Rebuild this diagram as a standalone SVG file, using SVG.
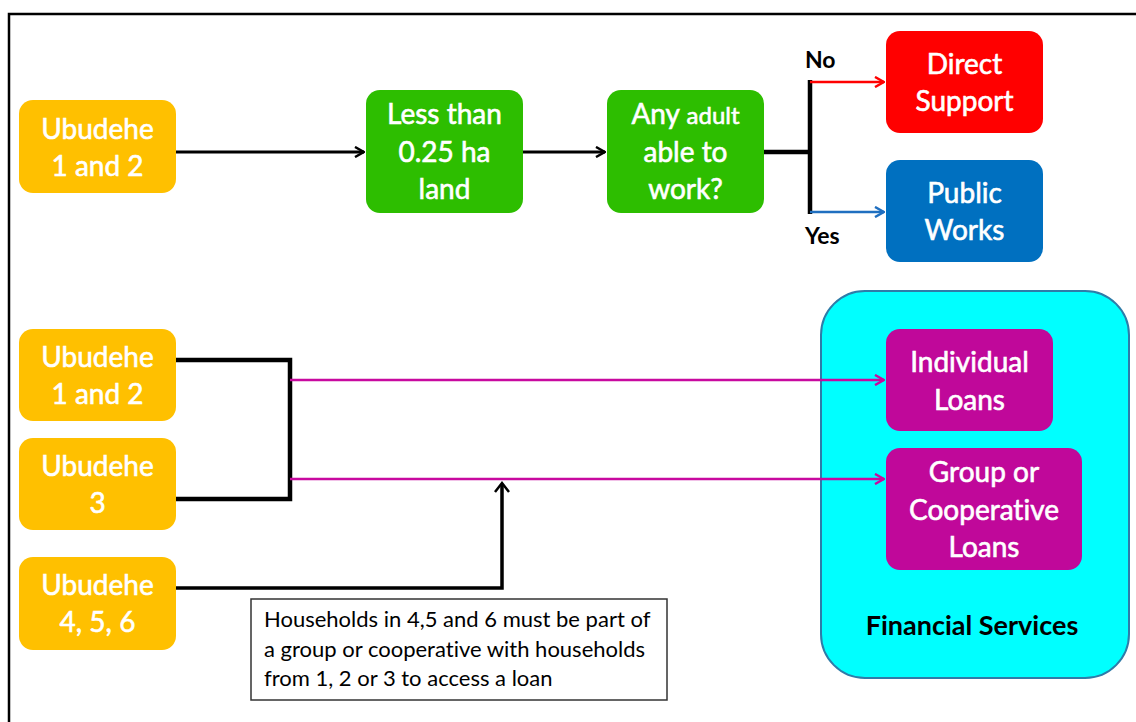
<svg xmlns="http://www.w3.org/2000/svg" width="1136" height="722" viewBox="0 0 1136 722">
<defs>
<style>
text{font-variant-ligatures:none;font-feature-settings:"liga" 0}
.t{font-family:Lato,"Open Sans","Liberation Sans",sans-serif;font-size:28px;fill:#fff;stroke:#fff;stroke-width:0.6;text-anchor:middle}
.lbl{font-family:Lato,"Open Sans","Liberation Sans",sans-serif;font-size:23px;font-weight:bold;fill:#000}
.note{font-family:Lato,"Open Sans","Liberation Sans",sans-serif;font-size:22px;fill:#000}
.k{fill:none;stroke:#000;stroke-width:3}
.kb{fill:none;stroke:#000;stroke-width:4.5}
</style>
<marker id="ak" viewBox="0 0 12 12" refX="11" refY="6" markerWidth="12" markerHeight="12" markerUnits="userSpaceOnUse" orient="auto"><path d="M2,1 L11,6 L2,11" fill="none" stroke="#000" stroke-width="2.5"/></marker>
<marker id="ar" viewBox="0 0 12 12" refX="11" refY="6" markerWidth="12" markerHeight="12" markerUnits="userSpaceOnUse" orient="auto"><path d="M2,1 L11,6 L2,11" fill="none" stroke="#FF0000" stroke-width="2.5"/></marker>
<marker id="ab" viewBox="0 0 12 12" refX="11" refY="6" markerWidth="12" markerHeight="12" markerUnits="userSpaceOnUse" orient="auto"><path d="M2,1 L11,6 L2,11" fill="none" stroke="#1F6FC0" stroke-width="2.5"/></marker>
<marker id="am" viewBox="0 0 12 12" refX="11" refY="6" markerWidth="12" markerHeight="12" markerUnits="userSpaceOnUse" orient="auto"><path d="M2,1 L11,6 L2,11" fill="none" stroke="#C8099F" stroke-width="2.5"/></marker>
</defs>
<rect width="1136" height="722" fill="#fff"/>
<rect x="9" y="14" width="1140" height="720" fill="none" stroke="#000" stroke-width="2.5"/>

<g id="financial-services">
<rect x="821" y="291" width="308" height="387" rx="44" fill="#00FFFF" stroke="#2E7CA8" stroke-width="2"/>
<text class="lbl" x="972" y="635" text-anchor="middle" style="font-size:27px">Financial Services</text>
</g>

<g id="connectors">
<line class="k" x1="176" y1="152" x2="364" y2="152" marker-end="url(#ak)"/>
<line class="k" x1="523" y1="152" x2="605" y2="152" marker-end="url(#ak)"/>
<polyline class="kb" points="764,152 810,152"/>
<line class="kb" x1="810" y1="80" x2="810" y2="214"/>
<line x1="810" y1="82" x2="884" y2="82" stroke="#FF0000" stroke-width="2.5" marker-end="url(#ar)"/>
<line x1="810" y1="212" x2="884" y2="212" stroke="#1F6FC0" stroke-width="2.5" marker-end="url(#ab)"/>
<polyline class="kb" points="176,360 290,360 290,499 176,499"/>
<line x1="290" y1="380" x2="884" y2="380" stroke="#C8099F" stroke-width="2.5" marker-end="url(#am)"/>
<line x1="290" y1="479" x2="884" y2="479" stroke="#C8099F" stroke-width="2.5" marker-end="url(#am)"/>
<polyline class="k" points="176,588 502,588 502,484" style="stroke-width:3.5"/>
<path d="M495,492 L502,483 L509,492" fill="none" stroke="#000" stroke-width="2.5"/>
<text class="lbl" x="805" y="68">No</text>
<text class="lbl" x="805" y="244">Yes</text>
</g>

<g id="ubudehe-12-top">
<rect x="19" y="100" width="157" height="93" rx="14" fill="#FFC000"/>
<text class="t" x="97.5" y="139">Ubudehe</text>
<text class="t" x="97.5" y="176">1 and 2</text>
</g>
<g id="less-than">
<rect x="366" y="90" width="157" height="123" rx="14" fill="#2DBE00"/>
<text class="t" x="444.5" y="124">Less than</text>
<text class="t" x="444.5" y="162">0.25 ha</text>
<text class="t" x="444.5" y="199">land</text>
</g>
<g id="any-adult">
<rect x="607" y="90" width="157" height="123" rx="14" fill="#2DBE00"/>
<text class="t" x="685.5" y="124">Any <tspan style="font-size:24px">adult</tspan></text>
<text class="t" x="685.5" y="162">able to</text>
<text class="t" x="685.5" y="199">work?</text>
</g>
<g id="direct-support">
<rect x="886" y="31" width="157" height="102" rx="14" fill="#FF0000"/>
<text class="t" x="964.5" y="74">Direct</text>
<text class="t" x="964.5" y="111">Support</text>
</g>
<g id="public-works">
<rect x="886" y="160" width="157" height="102" rx="14" fill="#0070C0"/>
<text class="t" x="964.5" y="203">Public</text>
<text class="t" x="964.5" y="240">Works</text>
</g>
<g id="ubudehe-12">
<rect x="19" y="329" width="157" height="92" rx="14" fill="#FFC000"/>
<text class="t" x="97.5" y="367">Ubudehe</text>
<text class="t" x="97.5" y="404">1 and 2</text>
</g>
<g id="ubudehe-3">
<rect x="19" y="438" width="157" height="92" rx="14" fill="#FFC000"/>
<text class="t" x="97.5" y="476">Ubudehe</text>
<text class="t" x="97.5" y="513">3</text>
</g>
<g id="ubudehe-456">
<rect x="19" y="557" width="157" height="93" rx="14" fill="#FFC000"/>
<text class="t" x="97.5" y="595">Ubudehe</text>
<text class="t" x="97.5" y="632">4, 5, 6</text>
</g>
<g id="individual-loans">
<rect x="886" y="329" width="167" height="102" rx="14" fill="#C0089A"/>
<text class="t" x="969.5" y="372">Individual</text>
<text class="t" x="969.5" y="410">Loans</text>
</g>
<g id="group-loans">
<rect x="886" y="448" width="196" height="122" rx="14" fill="#C0089A"/>
<text class="t" x="984" y="482">Group or</text>
<text class="t" x="984" y="520">Cooperative</text>
<text class="t" x="984" y="557">Loans</text>
</g>
<g id="note">
<rect x="251" y="599" width="416" height="101" fill="#fff" stroke="#333" stroke-width="1.5"/>
<text class="note" x="264" y="627">Households in 4,5 and 6 must be part of</text>
<text class="note" x="264" y="657">a group or cooperative with households</text>
<text class="note" x="264" y="686">from 1, 2 or 3 to access a loan</text>
</g>
</svg>
